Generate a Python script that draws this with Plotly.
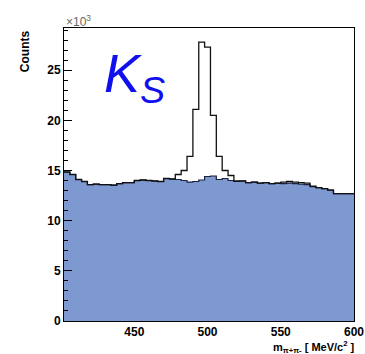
import plotly.graph_objects as go

# ---- data (counts per 4 MeV bin, m from 402 to 602 MeV) ----
bin_lo = 402
bin_width = 4
background = [14850, 14600, 14100, 13900, 13600, 13650, 13600, 13600, 13550, 13700,
              13800, 13800, 14000, 14050, 14000, 13950, 13900, 14200, 14150, 14100,
              14000, 13850, 13900, 14050, 14400, 14450, 14100, 14200, 14000, 13900,
              13950, 13800, 13850, 13750, 13800, 13700, 13750, 13700, 13750, 13700,
              13650, 13600, 13400, 13300, 13200, 13050, 12700, 12700, 12700, 12700]
total = [14850, 14600, 14100, 13900, 13600, 13650, 13600, 13600, 13550, 13700,
         13800, 13800, 14000, 14050, 14000, 13950, 13900, 14200, 14150, 14600,
         15000, 16400, 21100, 27800, 27300, 20500, 16400, 15000, 14500, 13950,
         13950, 13800, 13850, 13750, 13800, 13700, 13750, 13850, 13900, 13850,
         13800, 13750, 13450, 13300, 13200, 13050, 12700, 12700, 12700, 12700]
y_tickvals = [0, 5000, 10000, 15000, 20000, 25000]
y_ticktext = ["0", "5", "10", "15", "20", "25"]
x_tickvals = [450, 500, 550, 600]

edges = [bin_lo + bin_width * i for i in range(len(background) + 1)]
bg_y = background + [background[-1]]
tot_y = total + [total[-1]]

FONT = "Liberation Sans, Arial, sans-serif"

fig = go.Figure()
fig.add_trace(go.Scatter(
    x=edges, y=bg_y, mode="lines", line=dict(shape="hv", color="#1c2340", width=1.2),
    fill="tozeroy", fillcolor="#7e99d0", hoverinfo="skip", showlegend=False))
fig.add_trace(go.Scatter(
    x=edges, y=tot_y, mode="lines", line=dict(shape="hv", color="#111111", width=1.3),
    hoverinfo="skip", showlegend=False))

fig.update_layout(
    width=365, height=354,
    margin=dict(l=64, r=11, t=28, b=33),
    paper_bgcolor="white", plot_bgcolor="white",
    font=dict(family=FONT, size=12, color="black"),
    xaxis=dict(range=[402, 600], tickvals=x_tickvals, ticks="", showgrid=False,
               automargin=False,
               zeroline=False, showline=True, mirror=True, linecolor="black",
               linewidth=1, tickfont=dict(size=12, family=FONT, weight="bold")),
    yaxis=dict(range=[0, 29200], tickvals=y_tickvals, ticktext=y_ticktext,
               automargin=False,
               ticks="inside", ticklen=8, tickcolor="black", tickwidth=1,
               minor=dict(ticks="inside", ticklen=4, dtick=1000, tickcolor="black"),
               showgrid=False, zeroline=False, showline=True, mirror=True,
               linecolor="black", linewidth=1,
               tickfont=dict(size=12, family=FONT, weight="bold")),
    annotations=[
        dict(text="×10<sup>3</sup>", xref="paper", yref="paper", x=0, y=1,
             xanchor="left", yanchor="bottom", yshift=-3, showarrow=False,
             font=dict(size=12, color="#666666", family=FONT)),
        dict(text="Counts", xref="paper", yref="paper", x=-0.134, y=1,
             xanchor="center", yanchor="top", textangle=-90, showarrow=False,
             font=dict(size=12, family=FONT, weight="bold")),
        dict(text="m<sub>π+π-</sub> [ MeV/c<sup>2</sup> ]", xref="paper", yref="paper",
             x=1, y=0, xanchor="right", yanchor="top", xshift=3, yshift=-16,
             showarrow=False, font=dict(size=11, family=FONT, weight="bold")),
        dict(text="<i>K<sub>S</sub></i>", xref="paper", yref="paper",
             x=0.13, y=0.955, xanchor="left", yanchor="top", showarrow=False,
             font=dict(size=54, color="#1010ee", family=FONT, weight="normal")),
    ],
)

fig.write_html("out.html")
